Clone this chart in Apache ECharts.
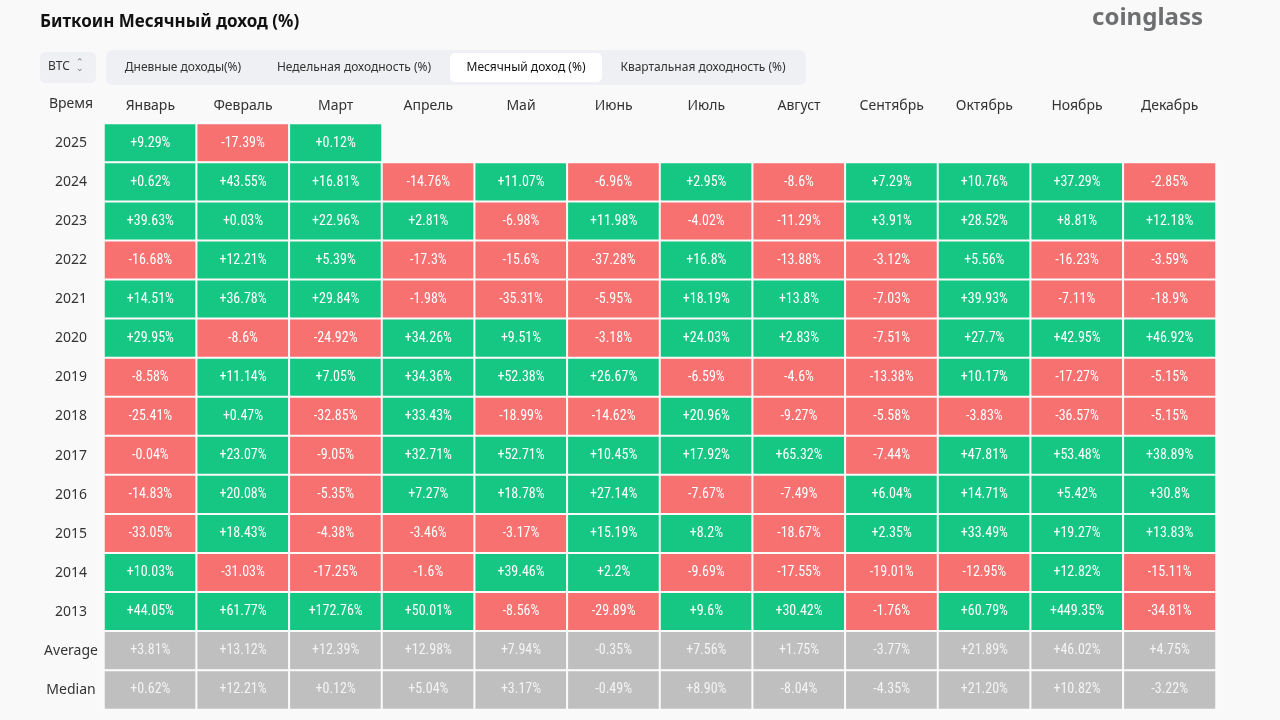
<!DOCTYPE html>
<html>
<head>
<meta charset="utf-8">
<script src="https://cdn.jsdelivr.net/npm/echarts@6/dist/echarts.min.js"></script>
<style>
html,body{margin:0;padding:0;background:#f9f9f9;}
#main{width:1280px;height:720px;}
</style>
</head>
<body>
<div id="main"></div>
<script>
var months = ['Январь','Февраль','Март','Апрель','Май','Июнь','Июль','Август','Сентябрь','Октябрь','Ноябрь','Декабрь'];
var rowLabels = ['2025','2024','2023','2022','2021','2020','2019','2018','2017','2016','2015','2014','2013','Average','Median'];
var y2025 = [9.29, -17.39, 0.12];
var y2024 = [0.62, 43.55, 16.81, -14.76, 11.07, -6.96, 2.95, -8.6, 7.29, 10.76, 37.29, -2.85];
var y2023 = [39.63, 0.03, 22.96, 2.81, -6.98, 11.98, -4.02, -11.29, 3.91, 28.52, 8.81, 12.18];
var y2022 = [-16.68, 12.21, 5.39, -17.3, -15.6, -37.28, 16.8, -13.88, -3.12, 5.56, -16.23, -3.59];
var y2021 = [14.51, 36.78, 29.84, -1.98, -35.31, -5.95, 18.19, 13.8, -7.03, 39.93, -7.11, -18.9];
var y2020 = [29.95, -8.6, -24.92, 34.26, 9.51, -3.18, 24.03, 2.83, -7.51, 27.7, 42.95, 46.92];
var y2019 = [-8.58, 11.14, 7.05, 34.36, 52.38, 26.67, -6.59, -4.6, -13.38, 10.17, -17.27, -5.15];
var y2018 = [-25.41, 0.47, -32.85, 33.43, -18.99, -14.62, 20.96, -9.27, -5.58, -3.83, -36.57, -5.15];
var y2017 = [-0.04, 23.07, -9.05, 32.71, 52.71, 10.45, 17.92, 65.32, -7.44, 47.81, 53.48, 38.89];
var y2016 = [-14.83, 20.08, -5.35, 7.27, 18.78, 27.14, -7.67, -7.49, 6.04, 14.71, 5.42, 30.8];
var y2015 = [-33.05, 18.43, -4.38, -3.46, -3.17, 15.19, 8.2, -18.67, 2.35, 33.49, 19.27, 13.83];
var y2014 = [10.03, -31.03, -17.25, -1.6, 39.46, 2.2, -9.69, -17.55, -19.01, -12.95, 12.82, -15.11];
var y2013 = [44.05, 61.77, 172.76, 50.01, -8.56, -29.89, 9.6, 30.42, -1.76, 60.79, 449.35, -34.81];
var average = [3.81, 13.12, 12.39, 12.98, 7.94, -0.35, 7.56, 1.75, -3.77, 21.89, 46.02, 4.75];
var median = [0.62, 12.21, 0.12, 5.04, 3.17, -0.49, 8.90, -8.04, -4.35, 21.20, 10.82, -3.22];

var rows = [y2025, y2024, y2023, y2022, y2021, y2020, y2019, y2018, y2017, y2016, y2015, y2014, y2013, average, median];
var GREEN = '#16c784', RED = '#f87171', GRAY = '#bfbfbf';

var data = [];
rows.forEach(function (r, yi) {
  var isStat = yi >= 13;
  r.forEach(function (v, xi) {
    var txt = (v >= 0 ? '+' : '') + (isStat ? v.toFixed(2) : String(v)) + '%';
    data.push({
      value: [xi, yi, v],
      txt: txt,
      itemStyle: { color: isStat ? GRAY : (v >= 0 ? GREEN : RED) },
      label: { color: isStat ? '#f4f4f4' : '#ffffff' }
    });
  });
});

var chart = echarts.init(document.getElementById('main'), null, { renderer: 'canvas' });
chart.setOption({
  backgroundColor: '#f9f9f9',
  animation: false,
  title: {
    text: 'Биткоин Месячный доход (%)',
    left: 40, top: 14, padding: 0,
    textStyle: { fontFamily: 'Noto Sans', fontSize: 17, fontWeight: 'bold', color: '#111' }
  },
  grid: { left: 104, right: 64, top: 123.5, bottom: 10.5 },
  xAxis: {
    type: 'category', data: months, position: 'top',
    axisLine: { show: false }, axisTick: { show: false }, splitLine: { show: false },
    axisLabel: { margin: 10, fontFamily: 'Noto Sans', fontSize: 14, color: '#333', interval: 0 }
  },
  yAxis: {
    type: 'category', data: rowLabels, inverse: true,
    axisLine: { show: false }, axisTick: { show: false }, splitLine: { show: false },
    axisLabel: { margin: 33, align: 'center', fontFamily: 'Noto Sans', fontSize: 14, color: '#333', interval: 0 }
  },
  series: [{
    type: 'heatmap',
    data: data,
    itemStyle: { borderColor: '#fafafa', borderWidth: 2 },
    label: {
      show: true,
      fontFamily: '"Roboto Condensed", sans-serif',
      fontSize: 14,
      formatter: function (p) { return p.data.txt; }
    },
    emphasis: { disabled: true }
  }],
  graphic: [
    { type: 'text', right: 77, top: 6,
      style: { text: 'coinglass', fontFamily: 'Noto Sans', fontSize: 24, fontWeight: 'bold', fill: '#6e6f71' } },
    { type: 'rect', shape: { x: 40, y: 52, width: 56, height: 31, r: 5 },
      style: { fill: '#eef0f3' } },
    { type: 'text', x: 48, y: 61,
      style: { text: 'BTC', fontFamily: 'Noto Sans', fontSize: 12, fill: '#333' } },
    { type: 'text', x: 76, y: 58,
      style: { text: '⌃', fontFamily: 'DejaVu Sans', fontSize: 9, fill: '#777' } },
    { type: 'text', x: 76, y: 64,
      style: { text: '⌄', fontFamily: 'DejaVu Sans', fontSize: 9, fill: '#777' } },
    { type: 'rect', shape: { x: 106, y: 50, width: 700, height: 35, r: 7 },
      style: { fill: '#eef0f3' } },
    { type: 'rect', shape: { x: 450, y: 53, width: 152, height: 29, r: 5 },
      style: { fill: '#ffffff' } },
    { type: 'text', x: 183, y: 68,
      style: { text: 'Дневные доходы(%)', fontFamily: 'Noto Sans', fontSize: 12, fill: '#333', align: 'center', verticalAlign: 'middle' } },
    { type: 'text', x: 354, y: 68,
      style: { text: 'Недельная доходность (%)', fontFamily: 'Noto Sans', fontSize: 12, fill: '#333', align: 'center', verticalAlign: 'middle' } },
    { type: 'text', x: 526, y: 68,
      style: { text: 'Месячный доход (%)', fontFamily: 'Noto Sans', fontSize: 12, fill: '#111', align: 'center', verticalAlign: 'middle' } },
    { type: 'text', x: 703, y: 68,
      style: { text: 'Квартальная доходность (%)', fontFamily: 'Noto Sans', fontSize: 12, fill: '#333', align: 'center', verticalAlign: 'middle' } },
    { type: 'text', x: 71, y: 104,
      style: { text: 'Время', fontFamily: 'Noto Sans', fontSize: 14, fill: '#333', align: 'center', verticalAlign: 'middle' } }
  ]
});
</script>
</body>
</html>
